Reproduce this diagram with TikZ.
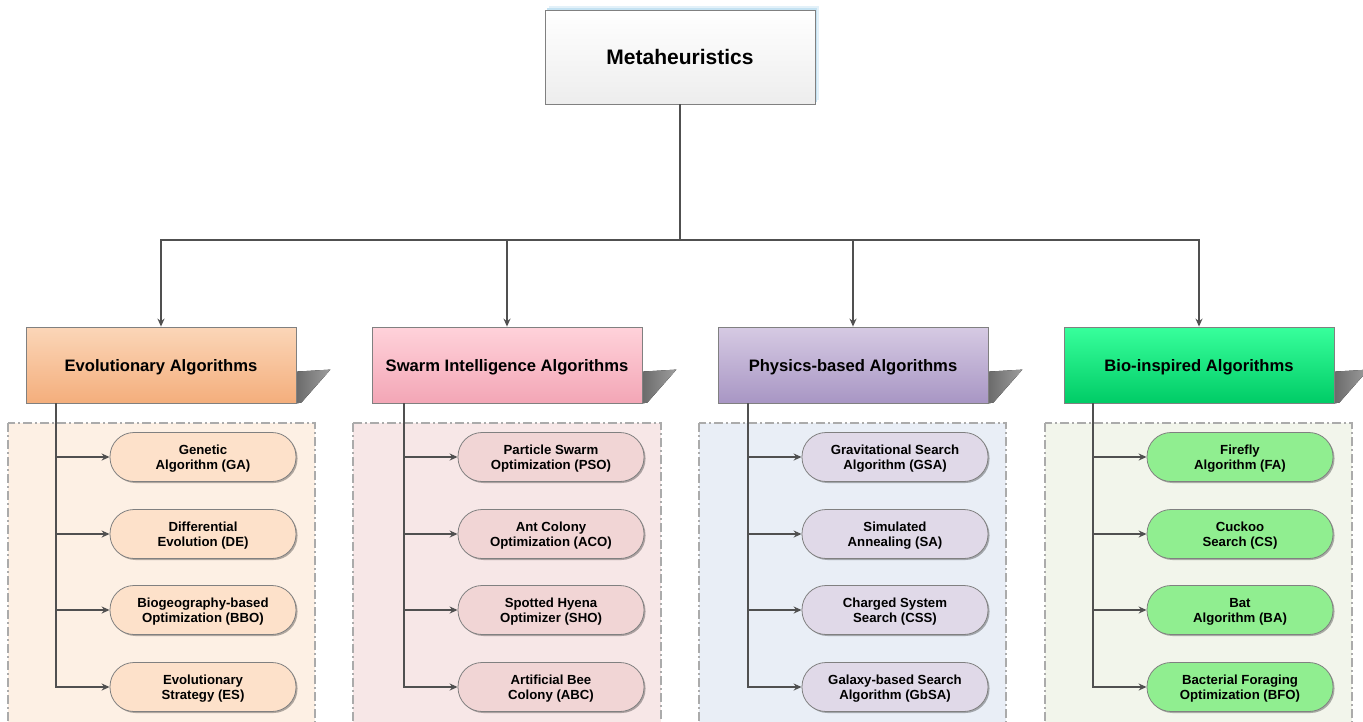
\documentclass[tikz,border=0pt]{standalone}
\usepackage{fontspec}
\setmainfont{Liberation Sans}
\usetikzlibrary{arrows.meta,shadows,backgrounds,calc}
\definecolor{conn}{HTML}{505050}
\definecolor{bord}{HTML}{808080}
\definecolor{grpline}{HTML}{ABABAB}
\definecolor{evoT}{HTML}{FBD6B8}
\definecolor{evoB}{HTML}{F4AE7C}
\definecolor{evoL}{HTML}{FDE1CA}
\definecolor{evoG}{HTML}{FDF0E4}
\definecolor{swaT}{HTML}{FFD2DA}
\definecolor{swaB}{HTML}{F3A6B6}
\definecolor{swaL}{HTML}{F1D5D5}
\definecolor{swaG}{HTML}{F7E7E7}
\definecolor{phyT}{HTML}{D6CAE3}
\definecolor{phyB}{HTML}{A896C4}
\definecolor{phyL}{HTML}{E0D9E8}
\definecolor{phyG}{HTML}{E9EEF6}
\definecolor{bioT}{HTML}{38FF9C}
\definecolor{bioB}{HTML}{00CC66}
\definecolor{bioL}{HTML}{90EE90}
\definecolor{bioG}{HTML}{F2F5EB}
\definecolor{glowA}{HTML}{E3F1F9}
\definecolor{glowB}{HTML}{C4E2F2}
\begin{document}
\begin{tikzpicture}[x=1pt,y=-1pt,
  topbox/.style={draw=bord, line width=0.8pt, minimum width=270pt, minimum height=94pt,
    top color=white, bottom color=black!7, font=\bfseries\fontsize{21}{24}\selectfont},
  catbox/.style={draw=bord, line width=0.8pt, minimum width=270pt, minimum height=76pt,
    text depth=-2pt, font=\bfseries\fontsize{16.6}{19}\selectfont},
  leaf/.style={draw=bord, line width=0.8pt, minimum width=186pt, minimum height=49pt,
    rounded corners=24pt, align=center, inner sep=0pt, text depth=-8pt,
    font=\bfseries\fontsize{13.2}{15}\selectfont,
    drop shadow={shadow xshift=1.5pt, shadow yshift=-1.5pt, fill=black, opacity=0.3}},
  grp/.style={draw=grpline, line width=1.5pt, dash pattern=on 9pt off 3pt on 2pt off 3pt},
  wire/.style={draw=conn, line width=2.2pt},
  arr/.style={wire, -{Stealth[length=8pt,width=7pt]}},
  shd/.style={left color=black!58, right color=black!38}
]
\useasboundingbox (0,0) rectangle (1363,721);

% group panels
\draw[grp, fill=evoG] (8,423) rectangle (315,740);
\draw[grp, fill=swaG] (353,423) rectangle (661,740);
\draw[grp, fill=phyG] (699,423) rectangle (1006,740);
\draw[grp, fill=bioG] (1045,423) rectangle (1352,740);

% top node
\node[topbox] (top) at (680,57) {Metaheuristics};

% category nodes
\node[catbox, top color=evoT, bottom color=evoB] (c1) at (161,365) {Evolutionary Algorithms};
\node[catbox, top color=swaT, bottom color=swaB] (c2) at (507,365) {Swarm Intelligence Algorithms};
\node[catbox, top color=phyT, bottom color=phyB] (c3) at (853,365) {Physics-based Algorithms};
\node[catbox, top color=bioT, bottom color=bioB] (c4) at (1199,365) {Bio-inspired Algorithms};

% leaves column 1
\node[leaf, fill=evoL] (l11) at (203,457) {Genetic\\Algorithm (GA)};
\node[leaf, fill=evoL] (l12) at (203,534) {Differential\\Evolution (DE)};
\node[leaf, fill=evoL] (l13) at (203,610) {Biogeography-based\\Optimization (BBO)};
\node[leaf, fill=evoL] (l14) at (203,687) {Evolutionary\\Strategy (ES)};
% column 2
\node[leaf, fill=swaL] (l21) at (551,457) {Particle Swarm\\Optimization (PSO)};
\node[leaf, fill=swaL] (l22) at (551,534) {Ant Colony\\Optimization (ACO)};
\node[leaf, fill=swaL] (l23) at (551,610) {Spotted Hyena\\Optimizer (SHO)};
\node[leaf, fill=swaL] (l24) at (551,687) {Artificial Bee\\Colony (ABC)};
% column 3
\node[leaf, fill=phyL] (l31) at (895,457) {Gravitational Search\\Algorithm (GSA)};
\node[leaf, fill=phyL] (l32) at (895,534) {Simulated\\Annealing (SA)};
\node[leaf, fill=phyL] (l33) at (895,610) {Charged System\\Search (CSS)};
\node[leaf, fill=phyL] (l34) at (895,687) {Galaxy-based Search\\Algorithm (GbSA)};
% column 4
\node[leaf, fill=bioL] (l41) at (1240,457) {Firefly\\Algorithm (FA)};
\node[leaf, fill=bioL] (l42) at (1240,534) {Cuckoo\\Search (CS)};
\node[leaf, fill=bioL] (l43) at (1240,610) {Bat\\Algorithm (BA)};
\node[leaf, fill=bioL] (l44) at (1240,687) {Bacterial Foraging\\Optimization (BFO)};

% shadows and glow
\begin{scope}[on background layer]
  \fill[glowA] ($(top.south west)+(4,-4)$) rectangle ($(top.north east)+(4,-4)$);
  \fill[glowB] ($(top.south west)+(2,-2)$) rectangle ($(top.north east)+(2,-2)$);
  \foreach \c in {c1,c2,c3,c4}{
    \fill[shd] ($(\c.north east)+(0,45)$) -- ($(\c.north east)+(34,43)$)
      -- ($(\c.north east)+(5,76)$) -- (\c.south east) -- cycle;
  }
\end{scope}

% connectors from the root
\coordinate (hub) at (680,240);
\draw[wire] (top.south) -- (hub);
\foreach \c in {c1,c2,c3,c4}{
  \draw[arr] (hub) -| (\c.north);
}

% trunks
\coordinate (t1) at (56,403);
\coordinate (t2) at (404,403);
\coordinate (t3) at (748,403);
\coordinate (t4) at (1093,403);
\foreach \k in {1,2,3,4}{
  \foreach \j in {1,2,3,4}{
    \draw[arr] (t\k) |- (l\k\j.west);
  }
}
\end{tikzpicture}
\end{document}
